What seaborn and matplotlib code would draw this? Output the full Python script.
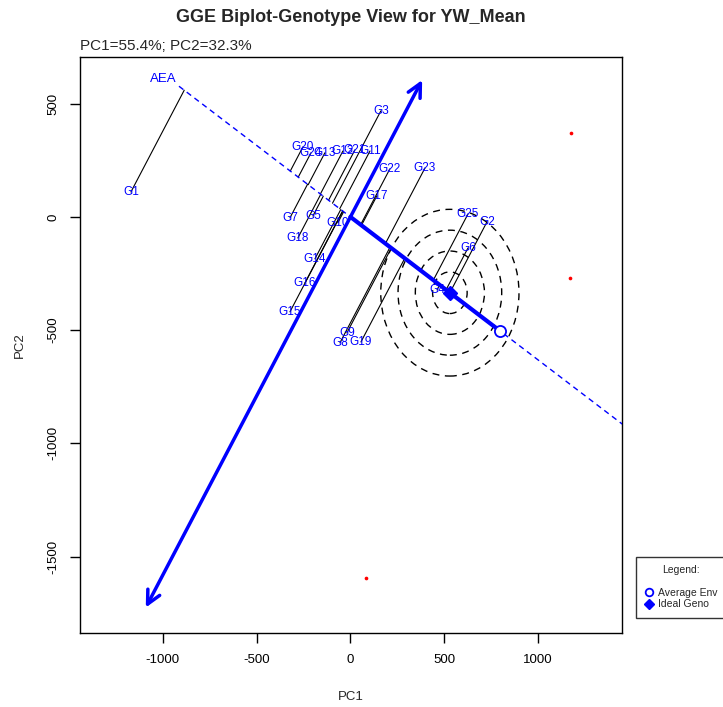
import numpy as np
import pandas as pd
import seaborn as sns
import matplotlib.pyplot as plt
from matplotlib.patches import Circle
from matplotlib.lines import Line2D

# genotype scores (label centres)
genotypes = ["G1", "G2", "G3", "G4", "G5", "G6", "G7", "G8", "G9", "G10",
             "G11", "G12", "G13", "G14", "G15", "G16", "G17", "G18", "G19", "G20",
             "G21", "G22", "G23", "G24", "G25"]
pc1 = [-1169, 727, 162, 461, -200, 626, -322, -56, -19, -67,
       104, -40, -136, -189, -322, -242, 141, -280, 56, -253,
       24, 210, 397, -210, 626]
pc2 = [110, -22, 468, -322, 4, -137, -4, -556, -512, -26,
       291, 291, 283, -185, -419, -291, 93, -93, -552, 309,
       296, 212, 216, 283, 13]

# environment points (labels not shown in the original)
env_pc1 = [1174, 1169, 83]
env_pc2 = [371, -269, -1594]

# average environment coordinate
avg_env = [796, -503]

# concentric rings around the ideal genotype
ring_step = 92
n_rings = 4

# extent of the AEA abscissa and the ordinate arrow (along each axis)
aea_start = -1080
ordinate_ends = [-2040, 715]

sns.set_theme(style="white")
plt.rcParams['font.family'] = ['Liberation Sans', 'DejaVu Sans']
plt.rcParams['axes.unicode_minus'] = False

df = pd.DataFrame({"gen": genotypes, "PC1": pc1, "PC2": pc2})

u = np.array(avg_env) / np.linalg.norm(avg_env)
v = np.array([-u[1], u[0]])
df["proj"] = df["PC1"] * u[0] + df["PC2"] * u[1]
ideal = df["proj"].max() * u

fig = plt.figure(figsize=(7.23, 7.07), dpi=100)
ax = fig.add_axes([80 / 723, 1 - 633 / 707, 542 / 723, 576 / 707])
ax.set_xlim(-1440, 1446)
ax.set_ylim(-1837, 706)

# projection lines from each genotype onto the AEA
for _, r in df.iterrows():
    ax.plot([r.PC1, r.proj * u[0]], [r.PC2, r.proj * u[1]], color="black", lw=0.8, zorder=2)

# AEA abscissa (dashed) and the average environment vector
t = np.array([aea_start, 3000])
ax.plot(t * u[0], t * u[1], color="blue", lw=1, dashes=(4, 3), zorder=3)
ax.plot([0, avg_env[0]], [0, avg_env[1]], color="blue", lw=3, zorder=3)
ax.annotate("AEA", xy=(aea_start * u[0], aea_start * u[1]), xytext=(-2, 1),
            textcoords="offset points", ha="right", va="bottom", color="blue", fontsize=9.5)

# ordinate with arrows at both ends
ax.annotate("", xy=tuple(ordinate_ends[1] * v), xytext=tuple(ordinate_ends[0] * v),
            arrowprops=dict(arrowstyle="<->,head_length=0.8,head_width=0.4",
                            color="blue", lw=2.5, shrinkA=0, shrinkB=0), zorder=3)

# rings
for k in range(1, n_rings + 1):
    ax.add_patch(Circle(tuple(ideal), k * ring_step, fill=False, ec="black",
                        lw=1, ls=(0, (5, 4)), zorder=2))

# points
sns.scatterplot(x=env_pc1, y=env_pc2, color="red", s=7, linewidth=0, ax=ax, zorder=4)
ax.plot(avg_env[0], avg_env[1], marker="o", ms=8, mfc="white", mec="blue", mew=1.3, zorder=5)
ax.plot(ideal[0], ideal[1], marker="D", ms=7, color="blue", zorder=5)

for _, r in df.iterrows():
    ax.text(r.PC1, r.PC2, r.gen, ha="center", va="center", color="blue", fontsize=8.5, zorder=4)

ax.set_xticks([-1000, -500, 0, 500, 1000])
ax.set_yticks([-1500, -1000, -500, 0, 500])
ax.tick_params(direction="out", length=7, width=1, labelsize=9.5, pad=8,
               colors="black", bottom=True, left=True)
for lab in ax.get_yticklabels():
    lab.set_rotation(90)
    lab.set_va("center")
for s in ax.spines.values():
    s.set_color("black")
    s.set_linewidth(1)

fig.text(351 / 723, 1 - 18 / 707, "GGE Biplot-Genotype View for YW_Mean",
         ha="center", va="center", fontsize=13, fontweight="bold")
fig.text(80 / 723, 1 - 46 / 707, "PC1=55.4%; PC2=32.3%", ha="left", va="center", fontsize=11)
fig.text(351 / 723, 1 - 697 / 707, "PC1", ha="center", va="center", fontsize=9.5)
fig.text(20 / 723, 1 - 345 / 707, "PC2", ha="center", va="center", rotation=90, fontsize=9.5)

handles = [Line2D([], [], ls="none", marker="o", ms=5.5, mfc="white", mec="blue", mew=1.3),
           Line2D([], [], ls="none", marker="D", ms=5, color="blue")]
leg = fig.legend(handles, ["Average Env", "Ideal Geno"], title="Legend:",
                 loc="upper left", bbox_to_anchor=(636 / 723, 1 - 557 / 707),
                 fontsize=7.5, title_fontsize=7.5, frameon=True, fancybox=False,
                 edgecolor="black", borderaxespad=0, handletextpad=0.5,
                 handlelength=0.8, labelspacing=0.15, borderpad=0.8)
leg._legend_box.sep = 9
leg.get_frame().set_linewidth(1)

fig.savefig("out.png", dpi=100)
